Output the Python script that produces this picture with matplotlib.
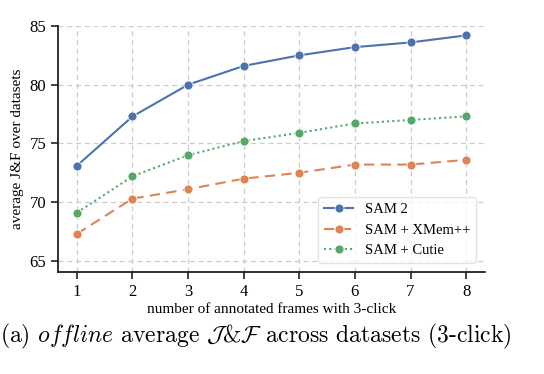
import matplotlib
matplotlib.use("Agg")
import matplotlib.pyplot as plt

# Data
frames = [1, 2, 3, 4, 5, 6, 7, 8]
sam2 = [73.1, 77.3, 80.0, 81.6, 82.5, 83.2, 83.6, 84.2]
sam_xmem = [67.3, 70.3, 71.1, 72.0, 72.5, 73.2, 73.2, 73.6]
sam_cutie = [69.1, 72.2, 74.0, 75.2, 75.9, 76.7, 77.0, 77.3]
yticks = [65, 70, 75, 80, 85]

plt.rcParams["font.family"] = ["Liberation Serif", "DejaVu Serif"]
plt.rcParams["mathtext.fontset"] = "cm"

fig = plt.figure(figsize=(5.44, 3.74), dpi=100)
ax = fig.add_axes([0.1066, 0.2727, 0.785, 0.6578])

ax.plot(frames, sam2, color="#4C72B0", linestyle="-", linewidth=1.5,
        marker="o", markersize=6.5, markeredgecolor="white", markeredgewidth=0.6,
        label="SAM 2")
ax.plot(frames, sam_xmem, color="#DD8452", linestyle=(0, (5, 3)), linewidth=1.5,
        marker="o", markersize=6.5, markeredgecolor="white", markeredgewidth=0.6,
        label="SAM + XMem++")
ax.plot(frames, sam_cutie, color="#55A868", linestyle=(0, (1, 1.5)), linewidth=1.5,
        marker="o", markersize=6.5, markeredgecolor="white", markeredgewidth=0.6,
        label="SAM + Cutie")

ax.set_xlim(0.66, 8.34)
ax.set_ylim(64.05, 85.0)
ax.set_xticks(frames)
ax.set_yticks(yticks)
ax.tick_params(labelsize=12, length=5, width=1.2, direction="out", color="#222222")
ax.grid(True, linestyle=(0, (4, 3)), color="#cccccc", linewidth=0.9)
ax.set_axisbelow(True)
for s in ["top", "right"]:
    ax.spines[s].set_visible(False)
for s in ["left", "bottom"]:
    ax.spines[s].set_linewidth(1.3)
    ax.spines[s].set_color("#222222")

ax.set_xlabel("number of annotated frames with 3-click", fontsize=11, labelpad=2)
ax.set_ylabel("average J&F over datasets", fontsize=11, labelpad=4)

leg = ax.legend(loc="lower right", fontsize=10.5, frameon=True, fancybox=True,
                borderaxespad=0.6, handlelength=2.0, labelspacing=0.5)
leg.get_frame().set_edgecolor("#dddddd")

fig.text(0.0, 0.1,
         r"(a) $\mathit{offline}$ average $\mathcal{J}$&$\mathcal{F}$ across datasets (3-click)",
         fontsize=17, family="cmr10", ha="left", va="center")

fig.savefig("out.png", dpi=100)
